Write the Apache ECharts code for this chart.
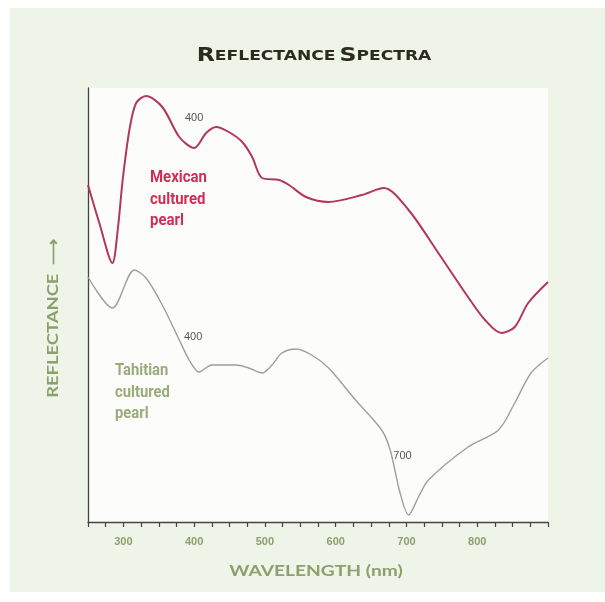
<!DOCTYPE html>
<html><head><meta charset="utf-8">
<script src="https://cdn.jsdelivr.net/npm/echarts@6/dist/echarts.min.js"></script>
<style>html,body{margin:0;padding:0;background:#fff}#c{width:605px;height:602px}</style>
</head><body><div id="c"></div>
<script>
// Wavelength (nm) and reflectance (arbitrary units)
const mexicanNm  = [250,266,284.5,292,299,308.5,318,332,355,379,400,417,431,449,468,482,496,520,534,558,590,637,668,703,745,787,811,834,853,872,900];
const mexicanVal = [337,299,259,292,342,392,419,426,415,385,374,389,395,390,380,365,344,342,337,325,320,327,334,312,269,225,202,189,195,219,240];
const tahitiNm   = [250,284.5,315.5,332,355,379,393,407,425,459,477,496,510,524,544,566,590,628,665,677,691,703,717,731,787,830,853,876,900];
const tahitiVal  = [245,214,252,244,217,182,162,150,157,157,154,149,157,169,173,167,154,122,92,72,29,7,25,42,75,92,119,149,164];
const xTickLabels = [300,400,500,600,700,800];
const annotations = [
  {series:'mex', nm:400, val:374, text:'400'},
  {series:'tah', nm:400, val:157, text:'400'},
  {series:'tah', nm:700, val:8,   text:'700'}
];

const zip = (a,b)=>a.map((x,i)=>[x,b[i]]);
const chart = echarts.init(document.getElementById('c'));
const olive = '#8d9f6c';
const annLabel = (off)=>({show:true, position:'inside', offset:off, color:'#555', fontSize:11, fontFamily:'Liberation Sans, Arial, sans-serif'});
const mp = (key, offs)=>({
  symbol:'circle', symbolSize:0, silent:true,
  data: annotations.filter(a=>a.series===key).map((a,i)=>({coord:[a.nm,a.val], value:a.text, label:Object.assign(annLabel(offs[i]),{formatter:a.text})}))
});

chart.setOption({
  backgroundColor:'#ffffff',
  animation:false,
  graphic:[
    {type:'rect', z:-100, shape:{x:10,y:8,width:595,height:584}, style:{fill:'#eef4e8'}},
    {type:'text', x:314, y:56, scaleX:1.18, style:{
      text:'{a|R}{b|EFLECTANCE} {a|S}{b|PECTRA}', align:'center', verticalAlign:'middle',
      rich:{
        a:{fontFamily:'"DejaVu Sans", sans-serif', fontWeight:'bold', fontSize:20, fill:'#2c2c1e'},
        b:{fontFamily:'"DejaVu Sans", sans-serif', fontWeight:'bold', fontSize:14.5, fill:'#2c2c1e'}
      }}},
    {type:'text', x:316, y:571, scaleX:1.2, style:{text:'WAVELENGTH (nm)', align:'center', verticalAlign:'middle',
      fontFamily:'Lato, sans-serif', fontWeight:'bold', fontSize:16, fill:olive}},
    {type:'text', x:53, y:318, rotation:Math.PI/2, scaleX:1.15, style:{text:'REFLECTANCE  \u27F6', align:'center', verticalAlign:'middle',
      fontFamily:'Lato, sans-serif', fontWeight:'bold', fontSize:16, fill:olive}},
    {type:'text', x:150, y:167, scaleX:0.88, style:{text:'Mexican\ncultured\npearl', fill:'#cf2f55',
      fontFamily:'Roboto, sans-serif', fontWeight:'bold', fontSize:17, lineHeight:21.5, align:'left', verticalAlign:'top'}},
    {type:'text', x:115, y:360, scaleX:0.87, style:{text:'Tahitian\ncultured\npearl', fill:'#9aab7b',
      fontFamily:'Roboto, sans-serif', fontWeight:'bold', fontSize:17, lineHeight:21.5, align:'left', verticalAlign:'top'}}
  ],
  grid:{left:88, right:57, top:88, bottom:80, show:true, backgroundColor:'#fcfdfb', borderWidth:0},
  xAxis:{
    type:'value', min:250, max:900, interval:25,
    axisLine:{lineStyle:{color:'#444', width:1.3}},
    axisTick:{show:true, length:5, lineStyle:{color:'#444', width:1.2}},
    axisLabel:{color:olive, fontFamily:'"Liberation Sans", Arial, sans-serif', fontWeight:'bold', fontSize:11, margin:14,
      showMinLabel:true, showMaxLabel:true,
      formatter:v=>xTickLabels.includes(v)?String(v):''},
    splitLine:{show:false}
  },
  yAxis:{
    type:'value', min:0, max:434,
    axisLine:{show:true, lineStyle:{color:'#444', width:1.3}},
    axisTick:{show:false}, axisLabel:{show:false}, splitLine:{show:false}
  },
  series:[
    {name:'Mexican cultured pearl', type:'line', data:zip(mexicanNm,mexicanVal), smooth:0.3, symbol:'none',
      lineStyle:{color:'#b3375d', width:2}, markPoint:mp('mex',[[0,-30]])},
    {name:'Tahitian cultured pearl', type:'line', data:zip(tahitiNm,tahitiVal), smooth:0.3, symbol:'none',
      lineStyle:{color:'#a09f95', width:1.4}, markPoint:mp('tah',[[-1,-28],[-4,-58]])}
  ]
});
</script></body></html>
